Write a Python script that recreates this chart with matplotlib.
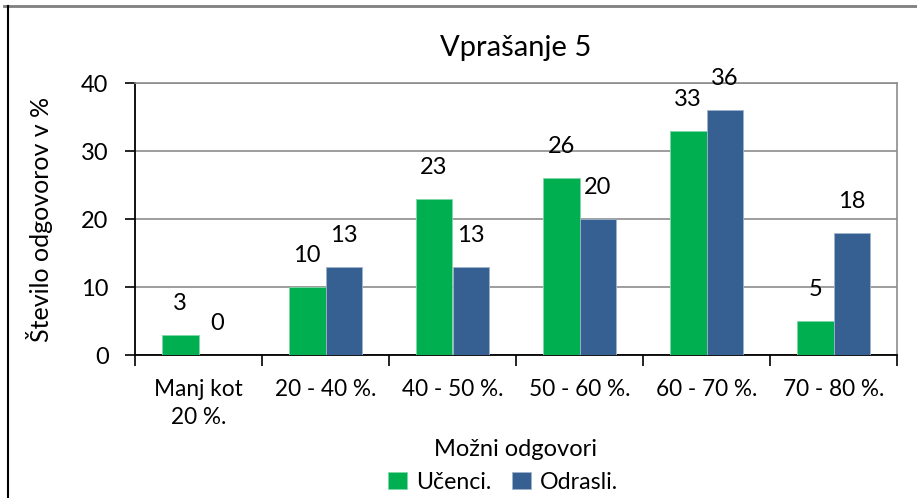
import matplotlib.pyplot as plt
import numpy as np
from matplotlib.lines import Line2D

categories = ["Manj kot\n20 %.", "20 - 40 %.", "40 - 50 %.", "50 - 60 %.", "60 - 70 %.", "70 - 80 %."]
ucenci = [3, 10, 23, 26, 33, 5]
odrasli = [0, 13, 13, 20, 36, 18]

GREEN = "#00B050"
BLUE = "#376092"
GRID = "#8c8c8c"

plt.rcParams["font.family"] = ["Lato", "DejaVu Sans"]

fig = plt.figure(figsize=(9.17, 4.98), dpi=100)
ax = fig.add_axes([135 / 917, 143 / 498, 762 / 917, 272 / 498])

x = np.arange(len(categories))
w = 0.29
b1 = ax.bar(x - w / 2, ucenci, w, color=GREEN, edgecolor="#7fd8a7", linewidth=0.6, label="Učenci.", zorder=3)
b2 = ax.bar(x + w / 2, odrasli, w, color=BLUE, edgecolor="#9fb3cc", linewidth=0.6, label="Odrasli.", zorder=3)

for xi, v in zip(x - w / 2, ucenci):
    ax.text(xi, v + 4.6, str(v), ha="center", va="center", fontsize=17, zorder=4)
for xi, v in zip(x + w / 2, odrasli):
    ax.text(xi, v + 4.6, str(v), ha="center", va="center", fontsize=17, zorder=4, clip_on=False)

ax.set_xlim(-0.5, len(categories) - 0.5)
ax.set_ylim(0, 40)
ax.set_yticks([0, 10, 20, 30, 40])
ax.tick_params(axis="y", labelsize=17, length=7, width=1.2, direction="out", pad=12)
ax.yaxis.grid(True, color=GRID, linewidth=1.2, zorder=0)
ax.set_axisbelow(True)

ax.set_xticks(x)
ax.set_xticklabels(categories, fontsize=16.3, linespacing=1.45)
ax.tick_params(axis="x", length=0, pad=17)
ax.set_xticks(np.arange(len(categories) + 1) - 0.5, minor=True)
ax.tick_params(axis="x", which="minor", length=8, width=1.2, direction="out")

for s in ["left", "bottom"]:
    ax.spines[s].set_color("black")
    ax.spines[s].set_linewidth(1.3)
for s in ["top", "right"]:
    ax.spines[s].set_color(GRID)
    ax.spines[s].set_linewidth(1.2)

ax.set_ylabel("Število odgovorov v %", fontsize=18, labelpad=20)
ax.set_xlabel("Možni odgovori", fontsize=17, labelpad=8)

fig.text(516 / 917, 1 - 48 / 498, "Vprašanje 5", ha="center", va="center", fontsize=21)

fig.legend(handles=[b1, b2], loc="center", bbox_to_anchor=(503 / 917, 1 - 482 / 498), ncol=2,
           frameon=False, fontsize=16.7, handlelength=0.8, handleheight=0.8, handletextpad=0.4,
           columnspacing=0.9, borderpad=0)

# outer chart border (top and left visible)
fig.add_artist(Line2D([4 / 917, 1], [1 - 6 / 498, 1 - 6 / 498], color="#7f7f7f", linewidth=2))
fig.add_artist(Line2D([8 / 917, 8 / 917], [0, 1 - 6 / 498], color="black", linewidth=1.5))

fig.savefig("out.png", dpi=100)
